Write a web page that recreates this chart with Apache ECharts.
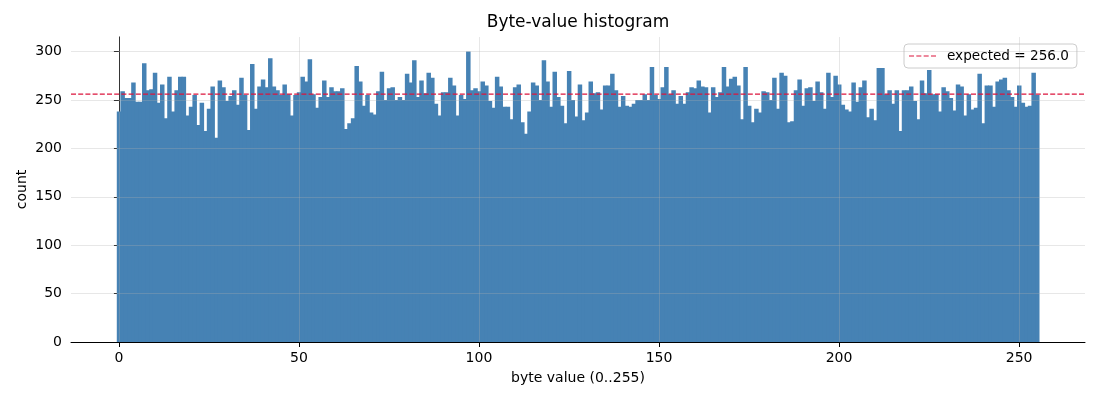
<!DOCTYPE html>
<html>
<head>
<meta charset="utf-8">
<script src="https://cdn.jsdelivr.net/npm/echarts@6/dist/echarts.min.js"></script>
<style>
  html, body { margin: 0; padding: 0; background: #fff; }
  #main { width: 1100px; height: 400px; }
</style>
</head>
<body>
<div id="main"></div>
<script>
// counts per byte value (8 rows of 32)
var counts = [
  238,259,252,252,268,248,248,288,260,261,278,247,266,231,274,238,260,274,274,234,243,255,224,247,218,241,264,211,270,263,249,254,
  260,245,273,255,219,287,241,264,271,263,293,264,260,255,266,256,234,255,258,274,269,292,256,242,253,270,253,263,259,259,262,220,
  226,231,285,269,244,255,237,235,259,279,250,262,263,250,253,250,277,268,291,253,270,257,278,273,246,234,258,258,273,265,234,255,
  251,300,260,262,259,269,265,249,242,274,264,243,243,230,263,266,227,215,238,268,265,250,291,269,243,279,253,244,226,280,250,233,
  266,229,237,269,257,258,240,265,265,277,260,243,254,244,243,246,250,250,256,250,284,255,251,263,284,256,260,246,254,246,258,263,
  262,270,264,263,237,263,253,258,284,264,272,274,265,230,284,244,227,241,237,259,258,250,273,241,278,275,227,228,260,271,244,262,
  263,249,269,258,241,278,253,275,266,245,240,238,268,248,263,270,232,241,229,283,283,256,260,246,260,218,260,260,264,249,230,270,
  257,281,256,256,238,263,259,252,239,266,264,234,256,240,242,277,226,265,265,243,269,271,273,260,253,243,265,247,243,244,278,255
];
var expected = 256.0;
var xTicks = [0, 50, 100, 150, 200, 250];
var yTicks = [0, 50, 100, 150, 200, 250, 300];

var font = 'DejaVu Sans';
var xMin = -13.3, xMax = 268.3;

var barData = [];
for (var i = 0; i < counts.length; i++) {
  barData.push([i, counts[i]]);
}

var chart = echarts.init(document.getElementById('main'));

var gridLines = [];
for (var i = 0; i < xTicks.length; i++) gridLines.push({ xAxis: xTicks[i] });
for (var i = 1; i < yTicks.length; i++) gridLines.push({ yAxis: yTicks[i] });

// dashed legend key, 4 dashes
var dashIcon = 'path://M0,0h5v1h-5z M7.3,0h5v1h-5z M14.6,0h5v1h-5z M21.9,0h5v1h-5z';

var option = {
  animation: false,
  textStyle: { fontFamily: font },
  graphic: [{
    type: 'text',
    x: 578, y: 23,
    style: {
      text: 'Byte-value histogram',
      font: '17px "DejaVu Sans"',
      fill: '#000',
      textAlign: 'center',
      textVerticalAlign: 'middle',
      align: 'center',
      verticalAlign: 'middle'
    }
  }],
  grid: { left: 71, right: 15, top: 37, bottom: 58 },
  legend: {
    left: 904, top: 44,
    padding: [5, 8, 5, 5],
    itemWidth: 27, itemHeight: 2.5, itemGap: 5,
    backgroundColor: 'rgba(255,255,255,0.8)',
    borderColor: '#cccccc', borderWidth: 1, borderRadius: 4,
    itemStyle: { color: '#dc143c', borderWidth: 0, opacity: 1 },
    textStyle: { fontFamily: font, fontSize: 13.6, color: '#000', padding: [0, 0, 0, 6] },
    data: [{ name: 'expected = 256.0', icon: dashIcon }]
  },
  xAxis: {
    type: 'value', min: xMin, max: xMax,
    name: 'byte value (0..255)', nameLocation: 'middle', nameGap: 29,
    nameMoveOverlap: false,
    nameTextStyle: { fontFamily: font, fontSize: 14, color: '#000' },
    axisLine: { show: true, lineStyle: { color: '#000', width: 1 } },
    axisTick: { show: true, length: 5, customValues: xTicks, lineStyle: { color: '#000' } },
    axisLabel: { customValues: xTicks, color: '#000', fontSize: 14, margin: 9, fontFamily: font },
    splitLine: { show: false }
  },
  yAxis: {
    type: 'value', min: 0, max: 315,
    name: 'count', nameLocation: 'middle', nameGap: 42,
    nameMoveOverlap: false,
    nameTextStyle: { fontFamily: font, fontSize: 14, color: '#000' },
    axisLine: { show: true, lineStyle: { color: '#000', width: 1 } },
    axisTick: { show: true, length: 5, customValues: yTicks, lineStyle: { color: '#000' } },
    axisLabel: { customValues: yTicks, color: '#000', fontSize: 14, margin: 9, fontFamily: font },
    splitLine: { show: false }
  },
  series: [
    {
      type: 'custom',
      name: 'counts',
      z: 2,
      data: barData,
      renderItem: function (params, api) {
        var x = api.value(0);
        var top = api.coord([x - 0.5, api.value(1)]);
        var bottom = api.coord([x + 0.5, 0]);
        // widen slightly so neighbouring bars don't leave hairline seams
        return {
          type: 'rect',
          shape: { x: top[0] - 0.3, y: top[1], width: bottom[0] - top[0] + 0.9, height: bottom[1] - top[1] },
          style: { fill: '#4682b4' }
        };
      }
    },
    {
      // light grid drawn over the bars
      type: 'line',
      name: 'grid',
      z: 3,
      data: [],
      silent: true,
      markLine: {
        silent: true, symbol: 'none', label: { show: false },
        lineStyle: { color: 'rgba(176,176,176,0.3)', width: 1, type: 'solid' },
        data: gridLines
      }
    },
    {
      type: 'line',
      name: 'expected = 256.0',
      z: 4,
      symbol: 'none',
      data: [[xMin, expected], [xMax, expected]],
      lineStyle: { color: '#dc143c', width: 1.2, type: [5, 2.2] },
      itemStyle: { color: '#dc143c' }
    }
  ]
};

chart.setOption(option);
</script>
</body>
</html>
